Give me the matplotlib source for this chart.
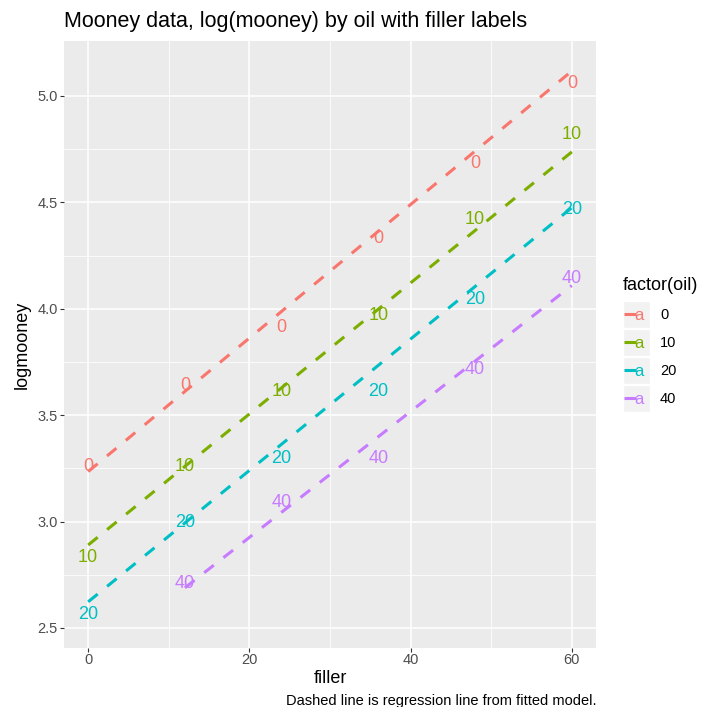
import numpy as np
import matplotlib
matplotlib.use("Agg")
import matplotlib.pyplot as plt
from matplotlib.legend_handler import HandlerBase
from matplotlib.lines import Line2D
from matplotlib.patches import Rectangle
from matplotlib.text import Text

plt.rcParams['font.family'] = ['Liberation Sans', 'DejaVu Sans']

# Data: log(mooney) by filler, one list per oil level
filler = [0, 12, 24, 36, 48, 60]
oil_levels = ["0", "10", "20", "40"]
logmooney_oil0 = [3.258, 3.638, 3.912, 4.331, 4.682, 5.056]
logmooney_oil10 = [2.833, 3.258, 3.611, 3.970, 4.419, 4.820]
logmooney_oil20 = [2.565, 2.996, 3.296, 3.611, 4.043, 4.466]
logmooney_oil40 = [np.nan, 2.708, 3.091, 3.296, 3.714, 4.143]

# Fitted regression lines (filler range and fitted values at the ends)
fit_x_start = [0, 0, 0, 12]
fit_x_end = [60, 60, 60, 60]
fit_y_start = [3.235, 2.890, 2.623, 2.689]
fit_y_end = [5.117, 4.737, 4.475, 4.109]

colors = ["#F8766D", "#7CAE00", "#00BFC4", "#C77CFF"]
series = [logmooney_oil0, logmooney_oil10, logmooney_oil20, logmooney_oil40]
DASH = (0, (4, 4))


class KeyHandler(HandlerBase):
    # ggplot-like key: grey box, dashed line and a letter "a"
    def create_artists(self, legend, orig_handle, xdescent, ydescent,
                       width, height, fontsize, trans):
        color = orig_handle.get_color()
        bg = Rectangle((-xdescent, -ydescent), width, height,
                       facecolor="#F2F2F2", edgecolor="white", lw=1.0,
                       transform=trans)
        y = -ydescent + height / 2
        ln = Line2D([-xdescent + 1, -xdescent + width - 1], [y, y], color=color,
                    lw=2.2, linestyle=DASH, dash_capstyle="butt",
                    transform=trans)
        txt = Text(-xdescent + width / 2 + 2, y - 1, "a", color=color,
                   ha="center", va="center", fontsize=12, transform=trans)
        return [bg, ln, txt]


fig = plt.figure(figsize=(7.12, 7.07), dpi=100)
ax = fig.add_axes([64 / 712, 1 - 648 / 707, (596 - 64) / 712, (648 - 41) / 707])
ax.set_facecolor("#EBEBEB")

handles = []
for vals, xs, xe, ys, ye, col, lab in zip(series, fit_x_start, fit_x_end,
                                          fit_y_start, fit_y_end, colors, oil_levels):
    for fx, fy in zip(filler, vals):
        if not np.isnan(fy):
            ax.text(fx, fy, lab, color=col, fontsize=13, ha="center",
                    va="center", zorder=3)
    h, = ax.plot([xs, xe], [ys, ye], color=col, lw=2.2, linestyle=DASH,
                 dash_capstyle="butt", zorder=4)
    handles.append(h)

ax.set_xlim(-3, 63)
ax.set_ylim(2.406, 5.258)
ax.set_xticks([0, 20, 40, 60])
ax.set_xticks([10, 30, 50], minor=True)
ax.set_yticks([2.5, 3.0, 3.5, 4.0, 4.5, 5.0])
ax.set_yticks([2.75, 3.25, 3.75, 4.25, 4.75], minor=True)
ax.set_yticklabels(["2.5", "3.0", "3.5", "4.0", "4.5", "5.0"])
ax.grid(which="major", color="white", lw=1.1)
ax.grid(which="minor", color="white", lw=0.55)
ax.set_axisbelow(True)
for s in ax.spines.values():
    s.set_visible(False)
ax.tick_params(which="major", length=3.0, width=0.8, color="#333333",
               labelcolor="#4D4D4D", labelsize=10.5, pad=1.5)
ax.tick_params(axis="x", which="major", pad=0.5)
ax.tick_params(which="minor", length=0)

ax.set_xlabel("filler", fontsize=13, labelpad=2)
ax.set_ylabel("logmooney", fontsize=13, labelpad=5)
ax.set_title("Mooney data, log(mooney) by oil with filler labels",
             loc="left", fontsize=15.5, pad=10)

leg = ax.legend(handles, oil_levels, handler_map={Line2D: KeyHandler()},
                title="factor(oil)", loc="upper left",
                bbox_to_anchor=(617 / 712, 1 - 271 / 707),
                bbox_transform=fig.transFigure, frameon=False,
                fontsize=10.5, title_fontsize=13, handlelength=1.85,
                handleheight=2.47, labelspacing=0.07, handletextpad=0.7,
                borderaxespad=0, alignment="left")
# a bit more room between the legend title and the keys
leg._legend_box.sep = 5

fig.text(596 / 712, 1 - 701 / 707,
         "Dashed line is regression line from fitted model.",
         ha="right", va="center", fontsize=10.5)

fig.savefig("out.png", dpi=100)
